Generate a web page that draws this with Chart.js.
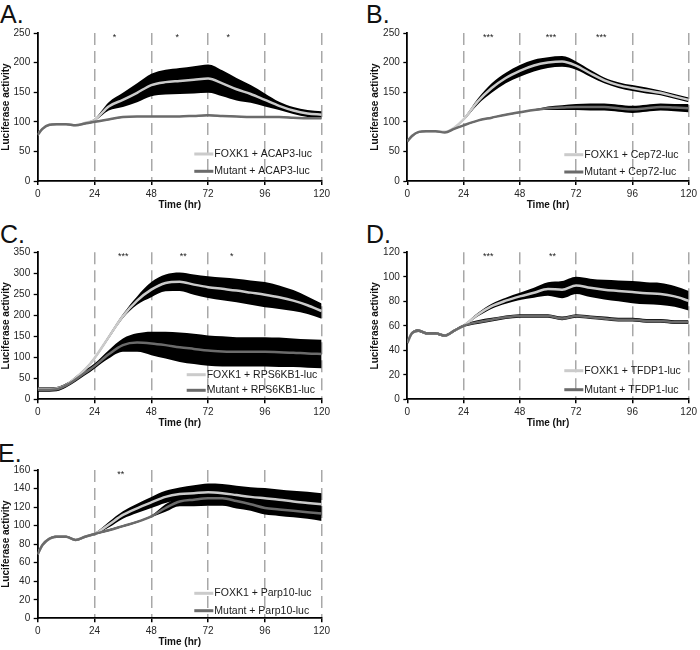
<!DOCTYPE html>
<html>
<head>
<meta charset="utf-8">
<script src="https://cdn.jsdelivr.net/npm/chart.js@4.4.0/dist/chart.umd.min.js"></script>
<style>
  body { margin: 0; background: #fff; width: 700px; height: 650px; overflow: hidden; position: relative; font-family: "Liberation Sans", Arial, sans-serif; }
  canvas { position: absolute; }
  .tag { position: absolute; font-size: 25px; line-height: 25px; color: #111; }
</style>
</head>
<body>
<script>
// time points (hr)
const hours = [0, 2, 5, 8, 12, 16, 20, 24, 30, 36, 42, 48, 54, 60, 66, 72, 78, 84, 90, 96, 102, 108, 114, 120];
const xTicks = [0, 24, 48, 72, 96, 120];

const panelTags = ['A.', 'B.', 'C.', 'D.', 'E.'];
const reporters = ['ACAP3-luc', 'Cep72-luc', 'RPS6KB1-luc', 'TFDP1-luc', 'Parp10-luc'];
const yMax = [250, 250, 350, 120, 160];
const yStep = [50, 50, 50, 20, 20];

// A. ACAP3
const foxkA    = [78, 88, 95, 96, 96, 94, 98, 103, 126, 137, 149, 162, 167, 169, 171, 173, 165, 155, 147, 137, 127, 119, 114, 112];
const foxkErrA = [1, 1, 1, 1, 1, 1, 1, 2, 7, 12, 16, 19, 21, 22, 23, 24, 22, 19, 15, 11, 7, 6, 6, 6];
const mutA     = [78, 88, 95, 96, 96, 94, 97, 100, 104, 108, 109, 109, 109, 109, 110, 111, 110, 109, 108, 108, 108, 107, 106, 106];
const mutErrA  = [1, 1, 1, 1, 1, 1, 1, 1, 1, 1, 1, 1, 1, 1, 1, 1, 1, 1, 1, 1, 1, 1, 1, 1];
const starsA   = [32.5, 59, 80.5];
const starTxtA = ['*', '*', '*'];

// B. Cep72
const foxkB    = [67, 76, 83, 84, 84, 83, 90, 104, 134, 157, 174, 186, 195, 200, 202, 195, 182, 170, 162, 157, 153, 149, 143, 137];
const foxkErrB = [1, 1, 1, 1, 1, 1, 1, 2, 5, 8, 9, 10, 10, 9, 9, 7, 6, 5, 5, 5, 5, 4, 4, 4];
const mutB     = [67, 76, 83, 84, 84, 82, 88, 94, 102, 107, 112, 116, 120, 123, 124, 125, 125, 125, 123, 121, 123, 125, 124, 123];
const mutErrB  = [1, 1, 1, 1, 1, 1, 1, 1, 1, 1, 1, 1, 1, 3, 4, 5, 6, 6, 6, 6, 6, 6, 6, 7];
const starsB   = [34.5, 61.3, 82.7];
const starTxtB = ['***', '***', '***'];

// C. RPS6KB1
const foxkC    = [25, 25, 25, 26, 34, 51, 71, 98, 148, 198, 235, 261, 277, 280, 273, 267, 263, 259, 254, 249, 243, 235, 224, 210];
const foxkErrC = [4, 4, 4, 3, 3, 3, 3, 3, 4, 5, 10, 18, 20, 22, 24, 26, 27, 28, 29, 30, 28, 25, 21, 18];
const mutC     = [23, 23, 23, 24, 33, 47, 63, 79, 107, 129, 135, 133, 129, 124, 120, 116, 114, 113, 113, 113, 112, 111, 109, 108];
const mutErrC  = [5, 5, 5, 5, 5, 5, 6, 6, 10, 16, 22, 28, 32, 35, 36, 36, 36, 35, 35, 35, 35, 34, 34, 34];
const starsC   = [36.2, 61.5, 82];
const starTxtC = ['***', '**', '*'];

// D. TFDP1
const foxkD    = [46, 54, 56, 54, 54, 52, 56, 60, 69, 76, 80.5, 84, 87, 90, 89.5, 93, 91, 89.5, 88.5, 87.5, 86.5, 86, 84, 80.5];
const foxkErrD = [1, 1, 1, 1, 1, 1, 1, 1, 1.5, 2, 2.5, 3, 4, 5.5, 7, 7, 7.5, 8, 8.5, 9, 9, 9, 8.5, 8];
const mutD     = [46, 54, 56, 54, 54, 52, 56, 60, 63, 65, 67, 68, 68, 68, 66, 68, 67, 66, 65, 65, 64, 64, 63, 63];
const mutErrD  = [1, 1, 1, 1, 1, 1, 1, 1, 1.5, 1.5, 1.5, 1.5, 1.5, 1.5, 1.5, 1.5, 1.5, 1.5, 1.5, 1.5, 1.5, 1.5, 1.5, 1.5];
const starsD   = [34.5, 61.9];
const starTxtD = ['***', '**'];

// E. Parp10
const foxkE    = [69, 79, 86, 88, 88, 84.5, 88, 91, 101, 111.5, 118.7, 125, 131, 134, 135, 136, 135, 133, 131, 129.5, 128, 126, 124.5, 123];
const foxkErrE = [1, 1, 1, 1, 1, 1, 1, 1, 3, 4, 5, 6, 6.5, 7, 8.5, 9.5, 10, 10, 10.5, 11, 11, 11.5, 12, 12];
const mutE     = [69, 79, 86, 88, 88, 84.5, 88, 91, 95, 99.5, 104, 110, 119, 126, 128, 129.5, 129.5, 126.5, 123, 119, 117.5, 116, 114.5, 113];
const mutErrE  = [1, 1, 1, 1, 1, 1, 1, 1, 1, 1, 1, 1, 4, 5, 7, 8, 8, 8, 7, 7, 7, 7, 7, 8];
const starsE   = [35.1];
const starTxtE = ['**'];

const foxkSeries = [foxkA, foxkB, foxkC, foxkD, foxkE];
const foxkErrs = [foxkErrA, foxkErrB, foxkErrC, foxkErrD, foxkErrE];
const mutSeries = [mutA, mutB, mutC, mutD, mutE];
const mutErrs = [mutErrA, mutErrB, mutErrC, mutErrD, mutErrE];
const starHours = [starsA, starsB, starsC, starsD, starsE];
const starTexts = [starTxtA, starTxtB, starTxtC, starTxtD, starTxtE];

// page layout: canvas box [left, top, width], plot area [left, top, right, bottom]
const layout = [
  { box: [0, 22, 345],   area: [37.7, 33, 321.7, 181],     legX: 156.6, legRows: [27, 9.7],  tag: [0, 2] },
  { box: [369, 22, 331], area: [407.3, 33, 691.7, 181],    legX: 157,   legRows: [26.3, 9],  tag: [366, 2] },
  { box: [0, 240, 345],  area: [37.7, 252.3, 321.7, 399.3], legX: 149,  legRows: [24.6, 9],  tag: [0, 221.5] },
  { box: [369, 240, 331],area: [407.3, 252.3, 691.7, 399.3], legX: 157, legRows: [28.6, 9.6], tag: [366, 221.5] },
  { box: [0, 455, 345],  area: [37.7, 470, 321.7, 618.3],  legX: 156.6, legRows: [25, 7.6],  tag: [-2, 440.5] }
];

const LIGHT = '#cbcbcb';
const DARK = '#6b6b6b';
const FONT = '"Liberation Sans", Arial, sans-serif';

// asterisks above the plot
const starPlugin = {
  id: 'stars',
  afterDatasetsDraw(chart, args, opts) {
    const ctx = chart.ctx, xs = chart.scales.x;
    ctx.save();
    ctx.font = '9px ' + FONT;
    ctx.fillStyle = '#222';
    ctx.textAlign = 'center';
    ctx.textBaseline = 'alphabetic';
    opts.hours.forEach((h, i) => {
      ctx.fillText(opts.texts[i], xs.getPixelForValue(h), chart.chartArea.top + 7);
    });
    ctx.restore();
  }
};

// legend inside the plot, bottom right
const innerLegend = {
  id: 'innerLegend',
  afterDatasetsDraw(chart, args, opts) {
    const ctx = chart.ctx, a = chart.chartArea;
    ctx.save();
    ctx.font = '10.5px ' + FONT;
    ctx.textBaseline = 'middle';
    opts.labels.forEach((lab, i) => {
      const y = a.bottom - opts.rows[i];
      const x = a.left + opts.x;
      ctx.strokeStyle = opts.colors[i];
      ctx.lineWidth = 3;
      ctx.beginPath();
      ctx.moveTo(x, y);
      ctx.lineTo(x + 19, y);
      ctx.stroke();
      ctx.fillStyle = '#1a1a1a';
      ctx.fillText(lab, x + 20, y);
    });
    ctx.restore();
  }
};

function pts(vals, errs, sign) {
  return hours.map((h, i) => ({ x: h, y: errs ? vals[i] + sign * errs[i] : vals[i] }));
}

layout.forEach((L, p) => {
  const tag = document.createElement('div');
  tag.className = 'tag';
  tag.textContent = panelTags[p];
  tag.style.left = L.tag[0] + 'px';
  tag.style.top = L.tag[1] + 'px';
  document.body.appendChild(tag);

  const [cx, cy, cw] = L.box;
  const [al, at, ar, ab] = L.area;
  const ch = Math.ceil(ab + 30 - cy);
  const xAxisH = cy + ch - ab;

  const cv = document.createElement('canvas');
  cv.width = cw; cv.height = ch;
  cv.style.left = cx + 'px';
  cv.style.top = cy + 'px';
  cv.style.width = cw + 'px';
  cv.style.height = ch + 'px';
  document.body.appendChild(cv);

  const line = {
    borderWidth: 2.5, pointRadius: 0, fill: false, cubicInterpolationMode: 'monotone'
  };
  // bands: fill only, painted before any line (filler drawTime below)
  const band = {
    borderWidth: 0, borderColor: 'rgba(0,0,0,0)', backgroundColor: '#000', pointRadius: 0,
    cubicInterpolationMode: 'monotone'
  };

  new Chart(cv.getContext('2d'), {
    type: 'line',
    data: {
      datasets: [
        Object.assign({ label: 'Mutant + ' + reporters[p], data: pts(mutSeries[p]), borderColor: DARK }, line),
        Object.assign({ label: 'FOXK1 + ' + reporters[p], data: pts(foxkSeries[p]), borderColor: LIGHT }, line),
        Object.assign({ data: pts(foxkSeries[p], foxkErrs[p], 1), fill: '+1' }, band),
        Object.assign({ data: pts(foxkSeries[p], foxkErrs[p], -1), fill: false }, band),
        Object.assign({ data: pts(mutSeries[p], mutErrs[p], 1), fill: '+1' }, band),
        Object.assign({ data: pts(mutSeries[p], mutErrs[p], -1), fill: false }, band)
      ]
    },
    options: {
      responsive: false,
      animation: false,
      layout: { padding: { left: 0, top: at - cy, right: cx + cw - ar, bottom: 0 } },
      plugins: {
        legend: { display: false },
        tooltip: { enabled: false },
        filler: { drawTime: 'beforeDatasetsDraw' },
        stars: { hours: starHours[p], texts: starTexts[p] },
        innerLegend: {
          x: L.legX, rows: L.legRows,
          labels: ['FOXK1 + ' + reporters[p], 'Mutant + ' + reporters[p]],
          colors: [LIGHT, DARK]
        }
      },
      scales: {
        x: {
          type: 'linear', min: 0, max: 120,
          afterBuildTicks: s => { s.ticks = xTicks.map(v => ({ value: v })); },
          afterFit: s => { s.height = xAxisH; },
          grid: {
            color: c => (c.tick && c.tick.value === 0) ? 'rgba(0,0,0,0)' : '#a8a8a8',
            lineWidth: 1.5, tickLength: 4, tickColor: '#000', tickWidth: 1.5
          },
          border: { color: '#000', width: 1.8, dash: [12, 6] },
          ticks: { color: '#262626', font: { family: FONT, size: 10 }, padding: 3, maxRotation: 0 },
          title: {
            display: true, text: 'Time (hr)', color: '#111',
            font: { family: FONT, size: 10, weight: 'bold' },
            padding: { top: 0, bottom: xAxisH - 30 }
          }
        },
        y: {
          min: 0, max: yMax[p],
          afterFit: s => { s.width = al - cx; },
          grid: { drawOnChartArea: false, tickLength: 4, tickColor: '#000', tickWidth: 1.3 },
          border: { color: '#000', width: 1.8 },
          ticks: { stepSize: yStep[p], color: '#262626', font: { family: FONT, size: 10 }, padding: 3.5 },
          title: {
            display: true, text: 'Luciferase activity', color: '#111',
            font: { family: FONT, size: 10, weight: 'bold' },
            padding: { top: 0, bottom: 0 }
          }
        }
      }
    },
    plugins: [starPlugin, innerLegend]
  });
});
</script>
</body>
</html>
